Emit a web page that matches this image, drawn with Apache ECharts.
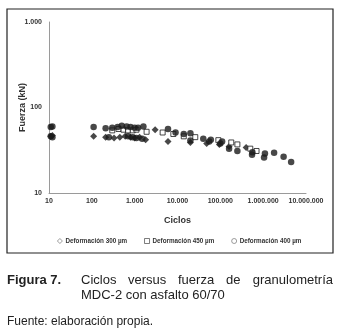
<!DOCTYPE html>
<html><head><meta charset="utf-8">
<script src="https://cdn.jsdelivr.net/npm/echarts@6/dist/echarts.min.js"></script>
<style>html,body{margin:0;padding:0;background:#fff}#c{width:341px;height:334px}</style>
</head><body><div id="c"></div>
<script>
// Tick labels
const xTicks = [10, 100, 1000, 10000, 100000, 1000000, 10000000];
const yTicks = [10, 100, 1000];
// Series names
const seriesNames = ['Deformación 300 µm', 'Deformación 450 µm', 'Deformación 400 µm'];
// Deformación 300 µm (diamonds)
const ciclos300 = [11, 12, 110, 210, 330, 450, 600, 800, 1000, 1300, 1800, 3000, 6000, 20000, 48000, 95000, 160000, 400000];
const fuerza300 = [46, 47, 46, 45, 44, 45, 46, 45, 44, 45, 42, 55, 40, 39, 38, 37, 35, 34];
// Deformación 450 µm (hollow squares)
const ciclos450 = [300, 420, 550, 700, 900, 1100, 1900, 4500, 8000, 14000, 26000, 90000, 180000, 250000, 500000, 700000];
const fuerza450 = [54, 56, 55, 54, 54, 55, 52, 51, 49, 46, 45, 41.5, 39, 37, 33, 31];
// Deformación 400 µm (circles)
const ciclos400 = [11, 12, 11, 12, 110, 210, 300, 400, 500, 650, 800, 1000, 1200, 1600, 250, 700, 900, 1100, 1500, 6000, 9000, 14000, 20000, 20000, 40000, 55000, 60000, 100000, 110000, 160000, 250000, 550000, 560000, 1050000, 1100000, 1800000, 3000000, 4500000];
const fuerza400 = [59, 60, 46, 45, 59, 57, 58, 59, 61, 60, 59, 58, 58, 60, 45, 46, 45, 44, 43, 56, 51, 49, 50, 41, 43, 40, 42, 38, 40, 33, 31, 28, 30, 26, 29, 29.5, 26.5, 23];

function pair(xs, ys){ return xs.map((x,i)=>[x, ys[i]]); }
function fmt(v){ return String(Math.round(v)).replace(/\B(?=(\d{3})+(?!\d))/g,'.'); }

const chart = echarts.init(document.getElementById('c'), null, {renderer:'canvas'});
const F = 'Liberation Sans, Arial, sans-serif';
const dark = '#1a1a1a';
chart.setOption({
  animation:false,
  backgroundColor:'#fff',
  textStyle:{fontFamily:F},
  grid:{left:49, right:35, top:22, bottom:141, containLabel:false},
  xAxis:{type:'log', logBase:10, min:xTicks[0], max:xTicks[xTicks.length-1],
    name:'Ciclos', nameLocation:'middle', nameGap:23, nameMoveOverlap:false,
    nameTextStyle:{fontFamily:F, fontWeight:'bold', fontSize:9, color:'#333'},
    axisLine:{lineStyle:{color:'#9a9a9a', width:1}}, axisTick:{show:false},
    splitLine:{show:false}, minorTick:{show:false},
    axisLabel:{formatter:fmt, fontFamily:F, fontWeight:'bold', fontSize:7, color:'#333', margin:5, showMaxLabel:true, showMinLabel:true}},
  yAxis:{type:'log', logBase:10, min:yTicks[0], max:yTicks[yTicks.length-1],
    name:'Fuerza (kN)', nameLocation:'middle', nameGap:22, nameRotate:90, nameMoveOverlap:false,
    nameTextStyle:{fontFamily:F, fontWeight:'bold', fontSize:9, color:'#333'},
    axisLine:{show:true, lineStyle:{color:'#9a9a9a', width:1}}, axisTick:{show:false},
    splitLine:{show:false},
    axisLabel:{formatter:fmt, fontFamily:F, fontWeight:'bold', fontSize:7, color:'#333', margin:7}},
  legend:{left:52, top:233, itemWidth:5, itemHeight:5, itemGap:17,
    textStyle:{fontFamily:F, fontWeight:'bold', fontSize:6.3, color:'#333', padding:[0,0,0,-2]},
    data:[
      {name:seriesNames[0], icon:'diamond', itemStyle:{color:'#fff', borderColor:'#666', borderWidth:0.8}},
      {name:seriesNames[1], icon:'rect', itemStyle:{color:'#fff', borderColor:'#333', borderWidth:0.8}},
      {name:seriesNames[2], icon:'circle', itemStyle:{color:'#fff', borderColor:'#666', borderWidth:0.8}}
    ]},
  series:[
    {name:seriesNames[0], type:'scatter', symbol:'diamond', symbolSize:7, data:pair(ciclos300,fuerza300),
      itemStyle:{color:dark}},
    {name:seriesNames[1], type:'scatter', symbol:'rect', symbolSize:5, data:pair(ciclos450,fuerza450),
      itemStyle:{color:'#fff', borderColor:dark, borderWidth:1}},
    {name:seriesNames[2], type:'scatter', symbol:'circle', symbolSize:6.5, data:pair(ciclos400,fuerza400),
      itemStyle:{color:dark}}
  ],
  graphic:[
    {type:'rect', shape:{x:7, y:9, width:326, height:244}, style:{fill:null, stroke:'#222', lineWidth:1.2}, silent:true, z:-1},
    {type:'text', left:7, top:274, style:{text:'Figura 7.', font:'bold 13px '+F, fill:'#222'}},
    {type:'text', left:81, top:274, style:{text:'Ciclos', font:'13px '+F, fill:'#222'}},
    {type:'text', left:128, top:274, style:{text:'versus', font:'13px '+F, fill:'#222'}},
    {type:'text', left:178, top:274, style:{text:'fuerza', font:'13px '+F, fill:'#222'}},
    {type:'text', left:226, top:274, style:{text:'de', font:'13px '+F, fill:'#222'}},
    {type:'text', right:8, top:274, style:{text:'granulometría', font:'13px '+F, fill:'#222'}},
    {type:'text', left:81, top:289, style:{text:'MDC-2 con asfalto 60/70', font:'13px '+F, fill:'#222'}},
    {type:'text', left:7, top:316, style:{text:'Fuente: elaboración propia.', font:'12px '+F, fill:'#222'}}
  ]
});
</script></body></html>
